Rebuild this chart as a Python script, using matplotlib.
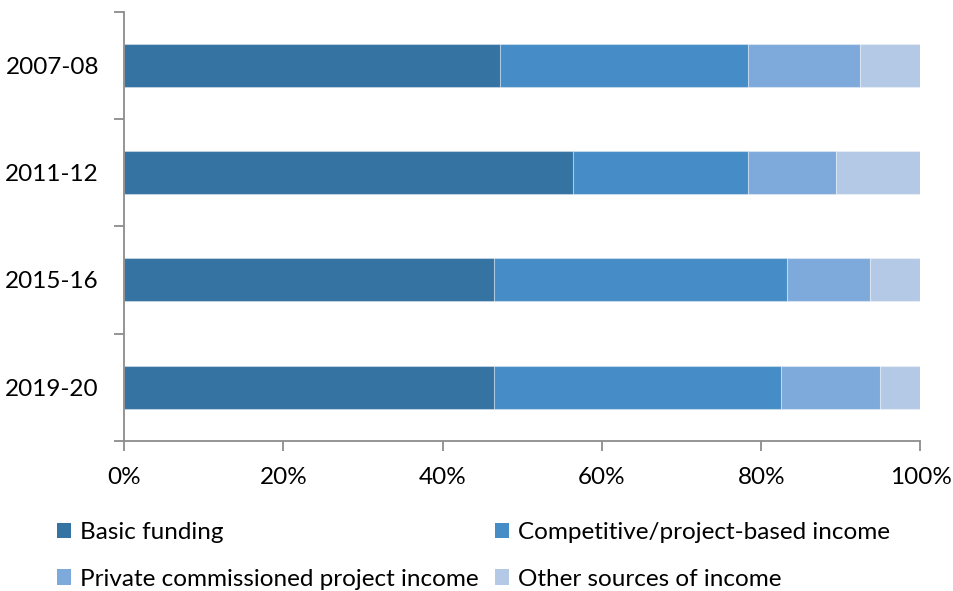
import matplotlib
matplotlib.use("Agg")
from matplotlib import pyplot as plt
from matplotlib.patches import Patch
import numpy as np

years = ["2007-08", "2011-12", "2015-16", "2019-20"]

# income shares in percent, one list per source
basic_funding = [47.2, 56.4, 46.5, 46.5]
competitive = [31.2, 21.9, 36.7, 36.0]
private_commissioned = [14.0, 11.1, 10.4, 12.4]
other_sources = [7.6, 10.6, 6.4, 5.1]

series_names = ["Basic funding", "Competitive/project-based income",
                "Private commissioned project income", "Other sources of income"]
colors = ["#3573a3", "#468cc6", "#7eaadb", "#b4c9e5"]

plt.rcParams["font.family"] = ["Lato", "DejaVu Sans"]
fs = 17.5
axis_grey = "#8c8c8c"

fig = plt.figure(figsize=(9.54, 5.91), dpi=100)
ax = fig.add_axes([124 / 954, 1 - 441 / 591, 796.5 / 954, 429.5 / 591])

y = np.arange(len(years))
left = np.zeros(len(years))
for values, name, color in zip([basic_funding, competitive, private_commissioned, other_sources],
                               series_names, colors):
    ax.barh(y, values, left=left, height=0.4, color=color,
            edgecolor=(1, 1, 1, 0.35), linewidth=0.8, label=name)
    left += np.array(values)

ax.set_xlim(0, 100)
ax.set_ylim(len(years) - 0.5, -0.5)

ax.set_xticks(np.arange(0, 101, 20))
ax.set_xticklabels([f"{v}%" for v in range(0, 101, 20)])

# ticks between categories, labels centred on the bars
ax.set_yticks(np.arange(-0.5, len(years), 1.0))
ax.set_yticklabels([])
ax.set_yticks(y, minor=True)
ax.set_yticklabels(years, minor=True)

ax.tick_params(axis="x", which="major", length=7, width=1.3, color=axis_grey,
               labelsize=fs, pad=12)
ax.tick_params(axis="y", which="major", length=7.5, width=1.3, color=axis_grey)
ax.tick_params(axis="y", which="minor", length=0, labelsize=fs, pad=18)

for side in ["top", "right"]:
    ax.spines[side].set_visible(False)
for side in ["left", "bottom"]:
    ax.spines[side].set_color(axis_grey)
    ax.spines[side].set_linewidth(1.3)

handles = [Patch(facecolor=c) for c in colors]
legend_opts = dict(loc="upper left", frameon=False, fontsize=fs, borderpad=0,
                   handlelength=0.58, handleheight=0.58, handletextpad=0.36,
                   labelspacing=1.05, borderaxespad=0)
fig.legend([handles[0], handles[2]], [series_names[0], series_names[2]],
           bbox_to_anchor=(57 / 954, 1 - 522 / 591), **legend_opts)
fig.legend([handles[1], handles[3]], [series_names[1], series_names[3]],
           bbox_to_anchor=(495 / 954, 1 - 522 / 591), **legend_opts)

fig.savefig("out.png", dpi=100)
